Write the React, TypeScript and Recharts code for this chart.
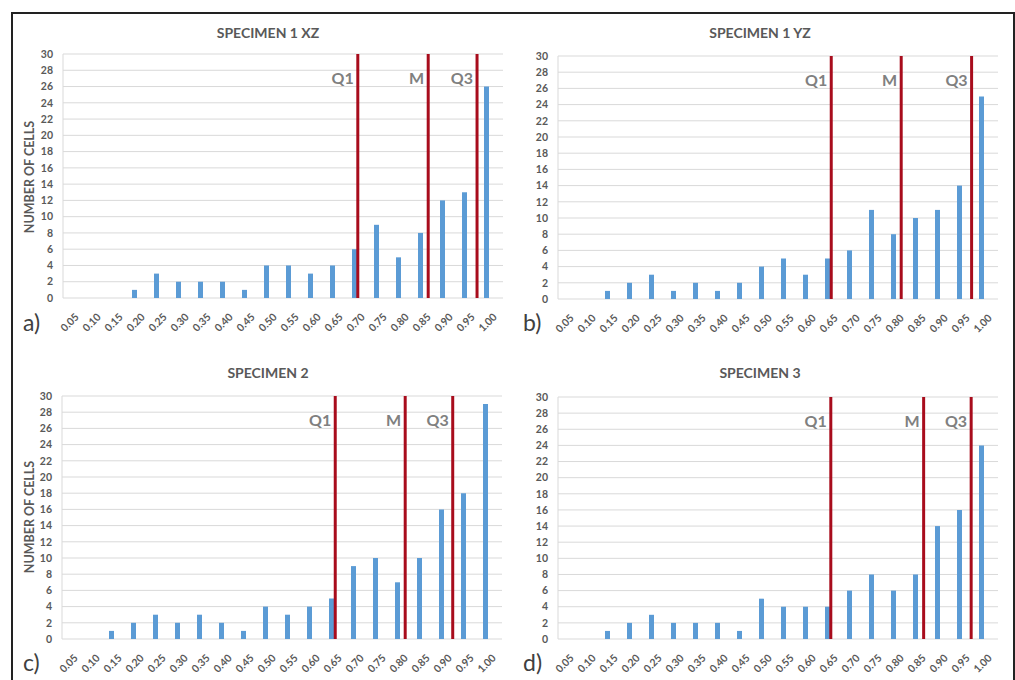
import React from 'react';
import { BarChart, Bar, XAxis, YAxis, CartesianGrid, ReferenceLine } from 'recharts';

// histogram bins (upper edge of each class)
const BINS = [0.05, 0.1, 0.15, 0.2, 0.25, 0.3, 0.35, 0.4, 0.45, 0.5, 0.55, 0.6, 0.65, 0.7, 0.75, 0.8, 0.85, 0.9, 0.95, 1.0];
const BIN_LABELS = BINS.map((b) => b.toFixed(2));
const Y_TICKS = [0, 2, 4, 6, 8, 10, 12, 14, 16, 18, 20, 22, 24, 26, 28, 30];

const spec1xz = [0, 0, 0, 1, 3, 2, 2, 2, 1, 4, 4, 3, 4, 6, 9, 5, 8, 12, 13, 26];
const spec1yz = [0, 0, 1, 2, 3, 1, 2, 1, 2, 4, 5, 3, 5, 6, 11, 8, 10, 11, 14, 25];
const spec2 = [0, 0, 1, 2, 3, 2, 3, 2, 1, 4, 3, 4, 5, 9, 10, 7, 10, 16, 18, 29];
const spec3 = [0, 0, 1, 2, 3, 2, 2, 2, 1, 5, 4, 4, 4, 6, 8, 6, 8, 14, 16, 24];

// quartile / median markers [Q1, M, Q3]
const quart1xz = [0.695, 0.855, 0.966];
const quart1yz = [0.646, 0.805, 0.965];
const quart2 = [0.646, 0.805, 0.913];
const quart3 = [0.645, 0.856, 0.964];
const QUART_NAMES = ['Q1', 'M', 'Q3'];

// bin edges, used for the tick marks between the categories
const HALF = 0.025;
const EDGES = [...BINS.map((b) => +(b - HALF).toFixed(3)), +(BINS[BINS.length - 1] + HALF).toFixed(3)];

const BLUE = '#5b9bd5';
const RED = '#a80c1c';
const GRID = '#d9d9d9';
const TXT = '#595959';
const FONT = 'Lato, "Open Sans", sans-serif';

const XTick: React.FC<any> = ({ x, y, payload }) => (
  <g transform={`translate(${x + 3},${y + 9})`}>
    <text transform="rotate(-45)" textAnchor="end" dy="0.35em" fontSize={10.5} fontWeight={700} fill={TXT} fontFamily={FONT}>
      {payload.value}
    </text>
  </g>
);

const NoTick = () => <g />;

const QLabel: React.FC<any> = ({ viewBox, value }) => (
  <text x={viewBox.x - 4} y={viewBox.y + 30} textAnchor="end" fontSize={16} fontWeight={700} fill="#808080" fontFamily={FONT}>
    {value}
  </text>
);

interface PanelProps {
  title: string;
  values: number[];
  quarts: number[];
  left: number;
  top: number;
  margin: { top: number; right: number; bottom: number; left: number };
  letter: string;
  yLabel?: boolean;
}

const Panel: React.FC<PanelProps> = ({ title, values, quarts, left, top, margin, letter, yLabel }) => {
  const data = BINS.map((b, i) => ({ label: BIN_LABELS[i], bin: b, count: values[i] }));
  return (
    <div style={{ position: 'absolute', left, top, width: 510, height: 340 }}>
      <div style={{ position: 'absolute', left: 0, width: 510 + (left ? 0 : 26), top: 24, textAlign: 'center', fontFamily: FONT, fontWeight: 700, fontSize: 14, color: TXT }}>
        {title}
      </div>
      {yLabel && (
        <div style={{ position: 'absolute', left: 29, top: 177, transform: 'translate(-50%,-50%) rotate(-90deg)', whiteSpace: 'nowrap', fontFamily: FONT, fontWeight: 700, fontSize: 12.5, color: TXT }}>
          NUMBER OF CELLS
        </div>
      )}
      <div style={{ position: 'absolute', left: left ? 18 : 23, top: 308, fontFamily: FONT, fontSize: 23, color: '#404040', lineHeight: '28px' }}>
        {letter}
      </div>
      <BarChart width={510} height={340} data={data} margin={margin} barGap={6}>
        <CartesianGrid vertical={false} stroke={GRID} yAxisId="l" />
        <XAxis
          xAxisId="num"
          dataKey="bin"
          type="number"
          domain={[EDGES[0], EDGES[EDGES.length - 1]]}
          allowDataOverflow
          ticks={EDGES}
          interval={0}
          tick={<NoTick />}
          height={0}
          tickSize={5}
          tickLine={{ stroke: '#bfbfbf' }}
          axisLine={{ stroke: GRID }}
        />
        <XAxis xAxisId="cat" dataKey="label" interval={0} tickLine={false} axisLine={false} height={30} tick={<XTick />} />
        <YAxis
          yAxisId="l"
          domain={[0, 30]}
          ticks={Y_TICKS}
          interval={0}
          width={30}
          tickSize={0}
          tickMargin={10}
          tickLine={false}
          axisLine={{ stroke: GRID }}
          tick={{ fontSize: 10.5, fontWeight: 700, fill: TXT, fontFamily: FONT }}
        />
        <YAxis yAxisId="r" orientation="right" width={0} tick={false} tickLine={false} axisLine={{ stroke: GRID }} />
        <Bar xAxisId="cat" yAxisId="l" dataKey="count" fill={BLUE} barSize={5} isAnimationActive={false} />
        <Bar xAxisId="cat" yAxisId="l" dataKey="spacer" fill="none" barSize={5} isAnimationActive={false} />
        {quarts.map((q, i) => (
          <ReferenceLine
            key={QUART_NAMES[i]}
            xAxisId="num"
            yAxisId="l"
            x={q}
            stroke={RED}
            strokeWidth={3}
            label={<QLabel value={QUART_NAMES[i]} />}
          />
        ))}
      </BarChart>
    </div>
  );
};

export default function App() {
  return (
    <div style={{ position: 'absolute', left: 0, top: 0, width: 1015, height: 680, background: '#fff', overflow: 'hidden' }}>
      <div style={{ position: 'absolute', left: 11, top: 12, width: 1000, height: 720, border: '2px solid #222' }} />
      <Panel title="SPECIMEN 1 XZ" values={spec1xz} quarts={quart1xz} left={0} top={0} letter="a)" yLabel
        margin={{ top: 54, right: 7, bottom: 12, left: 33 }} />
      <Panel title="SPECIMEN 1 YZ" values={spec1yz} quarts={quart1yz} left={505} top={0} letter="b)"
        margin={{ top: 56, right: 17, bottom: 11, left: 23 }} />
      <Panel title="SPECIMEN 2" values={spec2} quarts={quart2} left={0} top={340} letter="c)" yLabel
        margin={{ top: 56, right: 8, bottom: 11, left: 32 }} />
      <Panel title="SPECIMEN 3" values={spec3} quarts={quart3} left={505} top={340} letter="d)"
        margin={{ top: 57, right: 17, bottom: 11, left: 23 }} />
    </div>
  );
}
